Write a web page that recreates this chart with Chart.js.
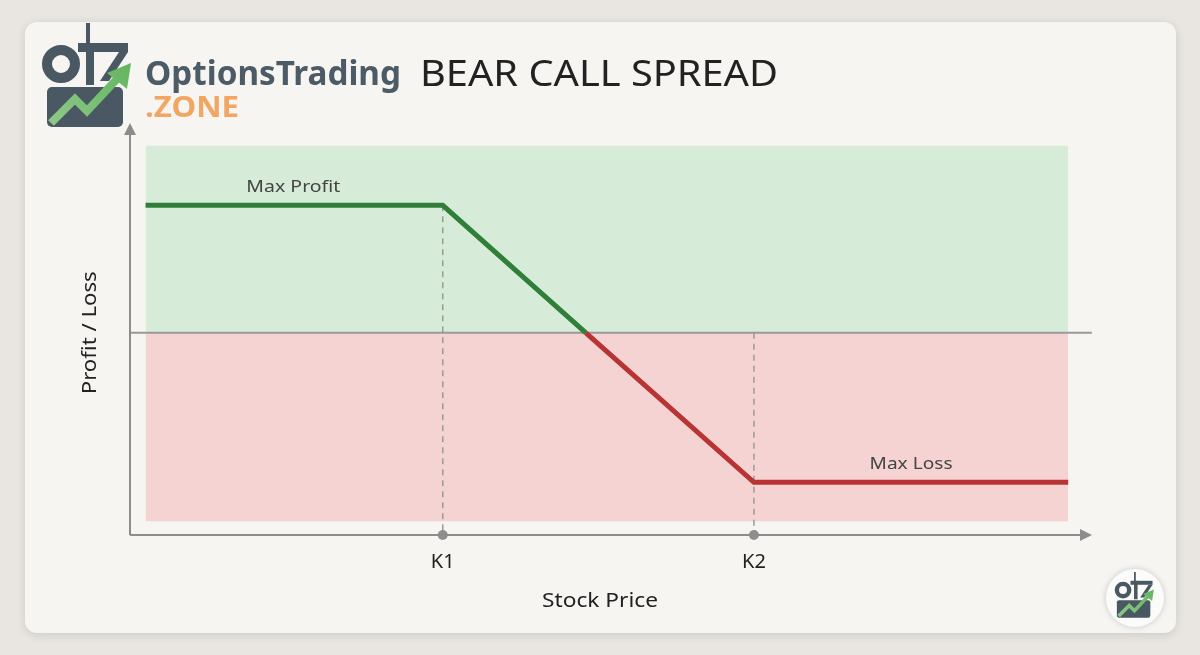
<!DOCTYPE html>
<html lang="en">
  <head>
    <meta charset="UTF-8" />
    <title>Bear Call Spread</title>
    <script src="https://cdn.jsdelivr.net/npm/chart.js"></script>
    <style>
      html, body { margin: 0; padding: 0; background: #e9e6e1; }
      #wrap { width: 1200px; height: 655px; }
    </style>
  </head>
  <body>
    <div id="wrap"><canvas id="payoff" width="1200" height="655"></canvas></div>
    <script>
      // payoff diagram values (stock price vs profit/loss)
      var prices = [90.45, 100, 104.6, 110, 120.1];
      var pnl = [4.6, 4.6, 0, -5.4, -5.4];
      var strikes = [100, 110];
      var tickLabels = ['K1', 'K2'];
      var strikePnl = [4.6, 0];
      var profitBand = 6.75;
      var lossBand = -6.8;
      var xRange = [89.95, 120.8];
      var yRange = [-7.3, 7.5];

      var GREEN = '#2f7f3b';
      var RED = '#b83333';
      var AXIS = '#8c8c8c';
      var FONT = "'Noto Sans', sans-serif";

      function pts(xs, ys) {
        return xs.map(function (x, i) { return { x: x, y: ys[i] }; });
      }

      function fitText(ctx, str, x, y, size, color, width, opts) {
        opts = opts || {};
        ctx.save();
        ctx.font = (opts.weight || '400') + ' ' + size + 'px ' + (opts.family || FONT);
        ctx.fillStyle = color;
        ctx.textBaseline = 'middle';
        var w = ctx.measureText(str).width;
        var sx = width ? width / w : 1;
        ctx.translate(x, y);
        if (opts.rotate) ctx.rotate(opts.rotate);
        ctx.scale(sx, 1);
        ctx.textAlign = opts.align || 'center';
        ctx.fillText(str, 0, 0);
        ctx.restore();
      }

      function roundRect(ctx, x, y, w, h, r) {
        ctx.beginPath();
        ctx.moveTo(x + r, y);
        ctx.arcTo(x + w, y, x + w, y + h, r);
        ctx.arcTo(x + w, y + h, x, y + h, r);
        ctx.arcTo(x, y + h, x, y, r);
        ctx.arcTo(x, y, x + w, y, r);
        ctx.closePath();
      }

      // rough sketch of the brand mark
      function drawLogo(ctx, ox, oy, s) {
        var dark = '#4a5863';
        ctx.save();
        ctx.translate(ox, oy);
        ctx.scale(s, s);
        ctx.fillStyle = dark;
        ctx.fillRect(41, 0, 4, 22);
        ctx.strokeStyle = dark;
        ctx.lineWidth = 10;
        ctx.beginPath();
        ctx.arc(16, 41, 14, 0, Math.PI * 2);
        ctx.stroke();
        ctx.fillRect(33, 20, 50, 9);
        ctx.fillRect(41, 20, 8, 42);
        ctx.beginPath();
        ctx.moveTo(74, 29); ctx.lineTo(83, 29); ctx.lineTo(64, 58); ctx.lineTo(55, 58);
        ctx.closePath();
        ctx.fill();
        roundRect(ctx, 2, 64, 76, 40, 5);
        ctx.fill();
        var g = ctx.createLinearGradient(0, 100, 85, 40);
        g.addColorStop(0, '#8fc98a');
        g.addColorStop(1, '#63b55f');
        ctx.strokeStyle = g;
        ctx.lineWidth = 8;
        ctx.lineJoin = 'miter';
        ctx.beginPath();
        ctx.moveTo(6, 100); ctx.lineTo(30, 76); ctx.lineTo(42, 88); ctx.lineTo(72, 56);
        ctx.stroke();
        ctx.fillStyle = g;
        ctx.beginPath();
        ctx.moveTo(86, 40); ctx.lineTo(82, 66); ctx.lineTo(62, 50);
        ctx.closePath();
        ctx.fill();
        ctx.restore();
      }

      var frame = {
        id: 'frame',
        beforeDraw: function (chart) {
          var ctx = chart.ctx;
          ctx.save();
          ctx.fillStyle = '#e9e6e1';
          ctx.fillRect(0, 0, chart.width, chart.height);
          ctx.shadowColor = 'rgba(0,0,0,0.12)';
          ctx.shadowBlur = 10;
          ctx.shadowOffsetY = 2;
          roundRect(ctx, 25, 22, 1151, 611, 12);
          ctx.fillStyle = '#f6f5f2';
          ctx.fill();
          ctx.restore();

          drawLogo(ctx, 45, 23, 1);
          fitText(ctx, 'OptionsTrading', 145, 75, 34, '#4d5b66', 256, { align: 'left', weight: '700' });
          fitText(ctx, '.ZONE', 145, 109, 28, '#f2a663', 94, { align: 'left', weight: '700' });
          fitText(ctx, 'BEAR CALL SPREAD', 420, 76, 36, '#222222', 358, { align: 'left' });

          // corner badge
          ctx.save();
          ctx.shadowColor = 'rgba(0,0,0,0.18)';
          ctx.shadowBlur = 6;
          ctx.beginPath();
          ctx.arc(1135, 598, 29, 0, Math.PI * 2);
          ctx.fillStyle = '#fbfbfa';
          ctx.fill();
          ctx.restore();
          drawLogo(ctx, 1116, 572, 0.44);
        },
        afterDatasetsDraw: function (chart) {
          var ctx = chart.ctx;
          var xs = chart.scales.x, ys = chart.scales.y;
          var left = xs.left, bottom = ys.bottom, top = ys.top, right = xs.right;
          ctx.save();
          ctx.strokeStyle = AXIS;
          ctx.fillStyle = AXIS;
          ctx.lineWidth = 2;
          ctx.beginPath();
          ctx.moveTo(left, bottom); ctx.lineTo(right - 6, bottom);
          ctx.moveTo(left, bottom); ctx.lineTo(left, top + 6);
          ctx.stroke();
          ctx.beginPath();
          ctx.moveTo(right + 2, bottom); ctx.lineTo(right - 10, bottom - 6); ctx.lineTo(right - 10, bottom + 6);
          ctx.closePath(); ctx.fill();
          ctx.beginPath();
          ctx.moveTo(left, top - 2); ctx.lineTo(left - 6, top + 10); ctx.lineTo(left + 6, top + 10);
          ctx.closePath(); ctx.fill();
          ctx.restore();

          strikes.forEach(function (k, i) {
            fitText(ctx, tickLabels[i], xs.getPixelForValue(k), 562, 20, '#222222', 0);
          });
          fitText(ctx, 'Stock Price', 600, 601, 20, '#222222', 116);
          fitText(ctx, 'Profit / Loss', 90, ys.getPixelForValue(0), 20, '#222222', 123, { rotate: -Math.PI / 2 });
          fitText(ctx, 'Max Profit', xs.getPixelForValue(95.2), ys.getPixelForValue(5.25), 17, '#444444', 94);
          fitText(ctx, 'Max Loss', xs.getPixelForValue(115.05), ys.getPixelForValue(-4.74), 17, '#444444', 83);
        }
      };

      var ctx = document.getElementById('payoff').getContext('2d');
      var datasets = [
        {
          label: 'Payoff',
          data: pts(prices, pnl),
          borderWidth: 5,
          borderColor: GREEN,
          borderJoinStyle: 'miter',
          pointRadius: 0,
          segment: {
            borderColor: function (c) { return (c.p0.parsed.y < 0 || c.p1.parsed.y < 0) ? RED : GREEN; }
          },
          order: 1
        },
        {
          label: 'Strike markers',
          data: strikes.map(function (k) { return { x: k, y: yRange[0] }; }),
          showLine: false,
          pointRadius: 5,
          pointBackgroundColor: '#8e8e8e',
          pointBorderWidth: 0,
          clip: false,
          order: 2
        }
      ];
      strikes.forEach(function (k, i) {
        datasets.push({
          label: tickLabels[i] + ' guide',
          data: [{ x: k, y: strikePnl[i] }, { x: k, y: yRange[0] }],
          borderColor: '#9a9a9a',
          borderWidth: 1.5,
          borderDash: [6, 5],
          pointRadius: 0,
          clip: false,
          order: 3
        });
      });
      datasets.push({
        label: 'Zero',
        data: [{ x: xRange[0], y: 0 }, { x: xRange[1] + 0.06, y: 0 }],
        borderColor: '#999999',
        borderWidth: 2,
        pointRadius: 0,
        clip: false,
        order: 4
      });
      datasets.push({
        label: 'Profit zone',
        data: [{ x: prices[0], y: profitBand }, { x: prices[prices.length - 1], y: profitBand }],
        borderWidth: 0,
        pointRadius: 0,
        fill: 'origin',
        backgroundColor: '#d7ecd8',
        order: 5
      });
      datasets.push({
        label: 'Loss zone',
        data: [{ x: prices[0], y: lossBand }, { x: prices[prices.length - 1], y: lossBand }],
        borderWidth: 0,
        pointRadius: 0,
        fill: 'origin',
        backgroundColor: '#f5d3d3',
        order: 6
      });

      new Chart(ctx, {
        type: 'line',
        data: { datasets: datasets },
        options: {
          responsive: false,
          animation: false,
          layout: { padding: { left: 130, right: 110, top: 125, bottom: 120 } },
          scales: {
            x: { type: 'linear', min: xRange[0], max: xRange[1], display: false },
            y: { type: 'linear', min: yRange[0], max: yRange[1], display: false }
          },
          plugins: {
            legend: { display: false },
            tooltip: { enabled: false },
            title: { display: false }
          }
        },
        plugins: [frame]
      });
    </script>
  </body>
</html>
